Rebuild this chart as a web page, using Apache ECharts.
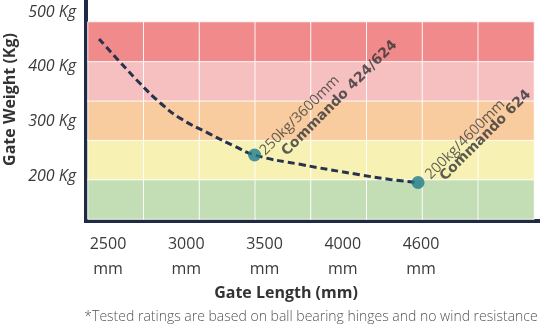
<!DOCTYPE html>
<html><head><meta charset="utf-8">
<script src="https://cdn.jsdelivr.net/npm/echarts@6/dist/echarts.min.js"></script>
<style>html,body{margin:0;padding:0;background:#fff}#c{width:540px;height:325px}</style>
</head><body><div id="c"></div>
<script>
// ---- data ----
const xTickLabels = ['2500', '3000', '3500', '4000', '4600'];
const yTickValues = [200, 300, 400, 500];
const curveLength = [2649, 2777, 2900, 3022, 3144, 3328, 3481, 3600, 3878, 4245, 4429, 4600];
const curveWeight = [461, 419, 380, 345, 317, 288, 265.5, 250, 233, 214, 205.5, 200];
const ratedLength = [3600, 4600];
const ratedWeight = [250, 200];
const ratedModel = ['Commando 424/624', 'Commando 624'];
const bandNames = ['green', 'yellow', 'orange', 'pink', 'red'];
const bandColumns = ['c1', 'c2', 'c3', 'c4', 'c5', 'c6', 'c7', 'c8'];

// ---- styles ----
const bandColors = ['#c3ddb4', '#f7f2b4', '#f9cc9f', '#f6c0c1', '#f08a8b'];
const navy = '#1f2b45';
const teal = '#1f7a8c';
const textColor = '#3a3a3a';
// per-annotation label placement (offset along / across the rotated text, second-line spacing & indent)
const labelLayout = [
  { offset: [7, -2], bLineHeight: 20, bIndent: 15 },
  { offset: [11, -3], bLineHeight: 11, bIndent: 9 }
];

const bandCells = [];
bandColumns.forEach((c, ci) => bandNames.forEach((b, bi) => bandCells.push([ci, bi, bi])));

function annotationLabel(i) {
  const L = labelLayout[i];
  return {
    show: true, position: 'inside', rotate: 45, align: 'left', verticalAlign: 'top',
    offset: L.offset,
    formatter: p => '{a|' + p.value[1] + 'kg/' + p.value[0] + 'mm}\n{b|' + ratedModel[p.dataIndex] + '}',
    rich: {
      a: { fontFamily: 'Open Sans', fontWeight: 'normal', fontSize: 14.5, lineHeight: 12, color: '#3a3a3a' },
      b: { fontFamily: 'DejaVu Sans', fontWeight: 'bold', fontSize: 14, lineHeight: L.bLineHeight,
           color: '#333', padding: [0, 0, 0, L.bIndent] }
    }
  };
}

const chart = echarts.init(document.getElementById('c'), null, { renderer: 'canvas' });
chart.setOption({
  animation: false,
  grid: [
    { left: 86, right: 0, top: 0, bottom: 104 },
    { left: 88, right: 6, top: 22, bottom: 106 },
    { left: 108, right: 119, top: 0, bottom: 104 }
  ],
  visualMap: {
    show: false, type: 'piecewise', seriesIndex: 0, dimension: 2,
    pieces: bandColors.map((c, i) => ({ value: i, color: c }))
  },
  xAxis: [
    { gridIndex: 0, type: 'value', min: 2569, max: 5346,
      axisLine: { show: true, onZero: false, lineStyle: { color: navy, width: 4, cap: 'square' } },
      axisTick: { show: false }, axisLabel: { show: false }, splitLine: { show: false } },
    { gridIndex: 1, type: 'category', data: bandColumns, show: false },
    { gridIndex: 2, type: 'category', data: xTickLabels, boundaryGap: false,
      axisLine: { show: false }, axisTick: { show: false }, splitLine: { show: false },
      axisLabel: { interval: 0, formatter: '{value}\nmm', fontFamily: 'Open Sans', fontSize: 16,
        lineHeight: 25, margin: 11, color: textColor } }
  ],
  yAxis: [
    { gridIndex: 0, type: 'value', min: 130, max: 531.8,
      axisLine: { show: true, onZero: false, lineStyle: { color: navy, width: 4, cap: 'square' } },
      axisTick: { show: false }, axisLabel: { show: false }, splitLine: { show: false } },
    { gridIndex: 1, type: 'category', data: bandNames, show: false },
    { gridIndex: 0, type: 'value', min: 118.7, max: 521.8, position: 'left',
      axisLine: { show: false }, axisTick: { show: false }, splitLine: { show: false },
      axisLabel: { customValues: yTickValues, formatter: '{value} Kg', fontFamily: 'Open Sans',
        fontStyle: 'italic', fontSize: 16, margin: 10, color: textColor } },
    { gridIndex: 2, type: 'value', show: false }
  ],
  series: [
    { type: 'heatmap', xAxisIndex: 1, yAxisIndex: 1, data: bandCells, z: 1,
      itemStyle: { borderColor: 'rgba(255,255,255,0.9)', borderWidth: 1 },
      silent: true },
    { type: 'line', xAxisIndex: 0, yAxisIndex: 0, z: 3, smooth: true, showSymbol: false,
      data: curveLength.map((l, i) => [l, curveWeight[i]]),
      lineStyle: { color: '#27324d', width: 3, type: [7, 4] } },
    { type: 'scatter', xAxisIndex: 0, yAxisIndex: 0, z: 4, symbolSize: 13,
      data: ratedLength.map((l, i) => ({ value: [l, ratedWeight[i]], label: annotationLabel(i) })),
      itemStyle: { color: teal } }
  ],
  graphic: [
    { type: 'text', x: 10, y: 99.5, rotation: Math.PI / 2,
      style: { text: 'Gate Weight (Kg)', fontFamily: 'Open Sans', fontWeight: 'bold', fontSize: 16,
        fill: '#333', align: 'center', verticalAlign: 'middle' } },
    { type: 'text', x: 286, y: 293.5,
      style: { text: 'Gate Length (mm)', fontFamily: 'Open Sans', fontWeight: 'bold', fontSize: 16,
        fill: '#333', align: 'center', verticalAlign: 'middle' } },
    { type: 'text', x: 311, y: 317,
      style: { text: '*Tested ratings are based on ball bearing hinges and no wind resistance',
        fontFamily: 'Open Sans', fontWeight: 300, fontSize: 14, fill: '#555',
        align: 'center', verticalAlign: 'middle' } }
  ]
});
</script></body></html>
